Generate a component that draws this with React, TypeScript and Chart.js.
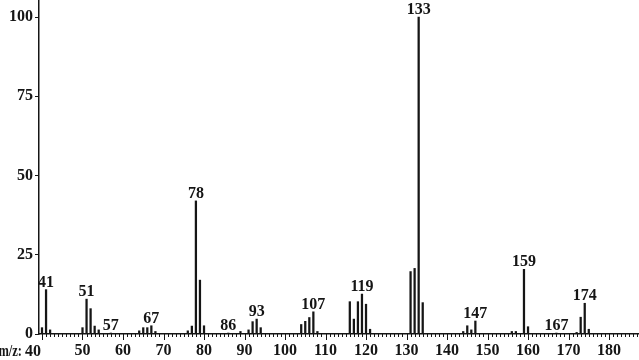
import React, { useEffect, useRef } from "react";
import { Chart, registerables } from "chart.js";

Chart.register(...registerables);

const mzValues = [40, 41, 42, 50, 51, 52, 53, 54, 57, 64, 65, 66, 67, 68, 76, 77, 78, 79, 80, 86, 89, 91, 92, 93, 94, 104, 105, 106, 107, 108, 116, 117, 118, 119, 120, 121, 131, 132, 133, 134, 144, 145, 146, 147, 156, 157, 159, 160, 167, 172, 173, 174, 175];
const intensities = [2, 14, 1.3, 2, 11, 8, 2.5, 1.3, 0.3, 1, 2, 2, 2.6, 0.8, 1, 2.5, 42, 17, 2.6, 0.3, 0.8, 1.3, 3.9, 4.7, 2, 3, 4, 5.2, 7, 0.8, 10.2, 4.7, 10.2, 12.6, 9.4, 1.5, 19.7, 20.7, 100, 9.9, 0.8, 2.6, 1.3, 4.1, 0.8, 0.8, 20.4, 2.3, 0.3, 0.5, 5.3, 9.7, 1.5];
const labeledPeaks = [41, 51, 57, 67, 78, 86, 93, 107, 119, 133, 147, 159, 167, 174];
const xTickValues = [50, 60, 70, 80, 90, 100, 110, 120, 130, 140, 150, 160, 170, 180];
const yTickValues = [0, 25, 50, 75, 100];
const axisPrefix = "m/z:";
const firstXTick = 40;

const FONT = "bold 16px 'Liberation Serif', 'Times New Roman', serif";
const INK = "#151515";

const annotatePlugin = {
  id: "annotate",
  afterDraw(chart: any) {
    const ctx = chart.ctx;
    const xs = chart.scales.x;
    const ys = chart.scales.y;
    ctx.save();
    ctx.strokeStyle = INK;
    ctx.lineWidth = 1;
    const y0 = ys.getPixelForValue(0);
    for (let v = Math.ceil(xs.min); v <= xs.max; v++) {
      const px = Math.round(xs.getPixelForValue(v)) + 0.5;
      const len = v % 10 === 0 ? 6 : 3;
      ctx.beginPath();
      ctx.moveTo(px, y0);
      ctx.lineTo(px, y0 + len);
      ctx.stroke();
    }
    ctx.font = FONT;
    ctx.fillStyle = INK;
    ctx.textAlign = "center";
    ctx.textBaseline = "alphabetic";
    labeledPeaks.forEach((m) => {
      const i = mzValues.indexOf(m);
      const val = i >= 0 ? intensities[i] : 0;
      const px = xs.getPixelForValue(m);
      const py = ys.getPixelForValue(val);
      ctx.fillText(String(m), px, py - 3);
    });
    const p40 = xs.getPixelForValue(firstXTick);
    ctx.textAlign = "right";
    ctx.fillText(String(firstXTick), p40 - 1, 356);
    ctx.save();
    ctx.translate(p40 - 20, 356);
    ctx.scale(0.78, 1);
    ctx.fillText(axisPrefix, 0, 0);
    ctx.restore();
    ctx.restore();
  },
};

export default function App() {
  const ref = useRef<HTMLCanvasElement | null>(null);
  useEffect(() => {
    if (!ref.current) return;
    const chart = new Chart(ref.current, {
      type: "bar",
      data: {
        datasets: [
          {
            data: mzValues.map((m, i) => ({ x: m, y: intensities[i] })),
            backgroundColor: INK,
            barThickness: 1.6,
            grouped: false,
          } as any,
        ],
      },
      options: {
        animation: false,
        responsive: false,
        maintainAspectRatio: false,
        layout: { padding: 0 },
        plugins: { legend: { display: false }, tooltip: { enabled: false } },
        scales: {
          x: {
            type: "linear",
            min: 39.26,
            max: 187.4,
            offset: false,
            afterBuildTicks: (s: any) => {
              s.ticks = xTickValues.map((v) => ({ value: v }));
            },
            afterFit: (s: any) => {
              s.height = 26;
              s.paddingLeft = 0;
              s.paddingRight = 0;
            },
            grid: { display: true, drawOnChartArea: false, drawTicks: false, offset: false },
            border: { display: true, color: INK, width: 1.5 },
            ticks: {
              font: { family: "'Liberation Serif', serif", size: 16, weight: "bold" },
              color: INK,
              padding: 7,
              maxRotation: 0,
              autoSkip: false,
            },
          },
          y: {
            min: 0,
            max: 105.4,
            afterBuildTicks: (s: any) => {
              s.ticks = yTickValues.map((v) => ({ value: v }));
            },
            afterFit: (s: any) => {
              s.width = 39;
              s.paddingTop = 0;
              s.paddingBottom = 0;
            },
            grid: { display: true, drawOnChartArea: false, drawTicks: true, tickLength: 4, color: INK },
            border: { display: true, color: INK, width: 1.5 },
            ticks: {
              font: { family: "'Liberation Serif', serif", size: 16, weight: "bold" },
              color: INK,
              padding: 2,
            },
          },
        },
      },
      plugins: [annotatePlugin],
    });
    return () => chart.destroy();
  }, []);
  return (
    <div style={{ position: "fixed", left: 0, top: 0, width: 639, height: 360, background: "#fff" }}>
      <canvas ref={ref} width={639} height={360} style={{ width: 639, height: 360 }} />
    </div>
  );
}
